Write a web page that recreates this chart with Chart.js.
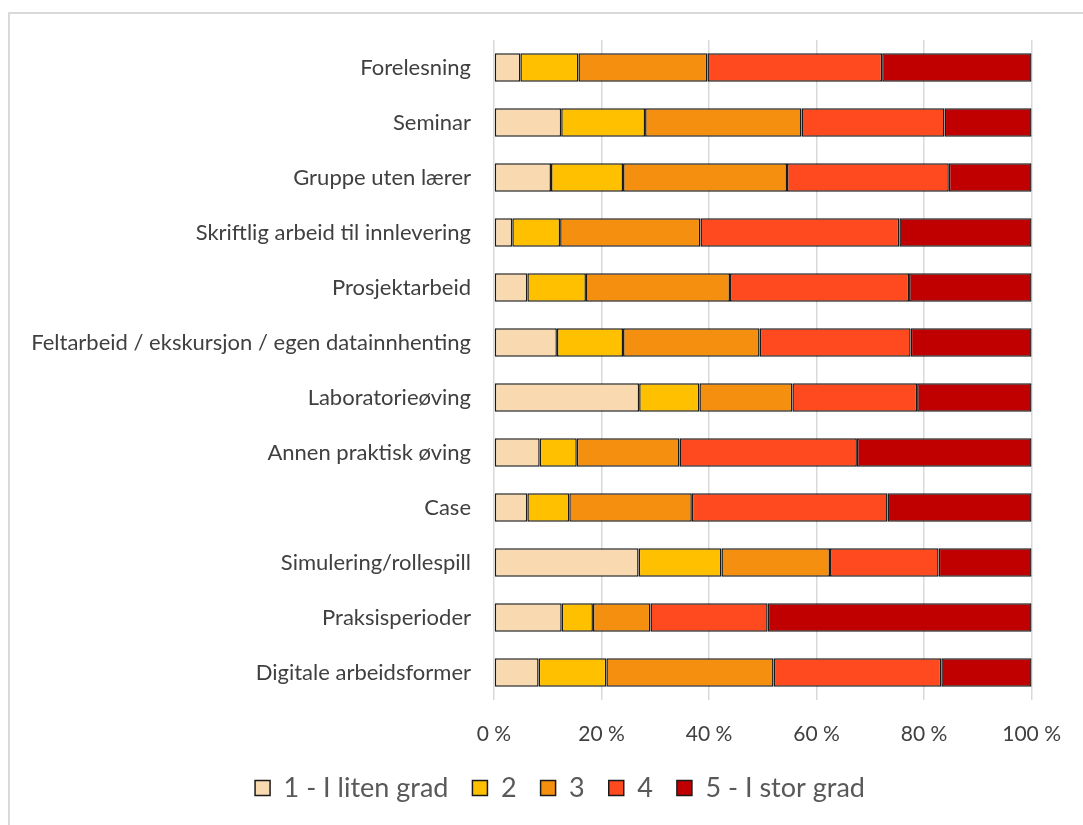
<!DOCTYPE html>
<html lang="no">
<head>
    <meta charset="UTF-8" />
    <title>Arbeidsformer</title>
    <script src="https://cdn.jsdelivr.net/npm/chart.js"></script>
    <style>
        html, body { margin: 0; padding: 0; background: #fff; }
        body { width: 1083px; height: 825px; position: relative; overflow: hidden; }
        .frame {
            position: absolute; left: 8px; top: 12px; width: 1100px; height: 840px;
            border-top: 2px solid #d9d9d9; border-left: 2px solid #d9d9d9;
            box-sizing: border-box;
        }
        #chartWrap { position: absolute; left: 0; top: 0; width: 1083px; height: 825px; }
    </style>
</head>
<body>
<div class="frame"></div>
<div id="chartWrap">
    <canvas id="workChart"></canvas>
</div>

<script>
    // Categories, top to bottom
    const categories = [
        "Forelesning",
        "Seminar",
        "Gruppe uten lærer",
        "Skriftlig arbeid til innlevering",
        "Prosjektarbeid",
        "Feltarbeid / ekskursjon / egen datainnhenting",
        "Laboratorieøving",
        "Annen praktisk øving",
        "Case",
        "Simulering/rollespill",
        "Praksisperioder",
        "Digitale arbeidsformer"
    ];

    const seriesNames = ["1 - I liten grad", "2", "3", "4", "5 - I stor grad"];

    // Share of answers (%) for each scale value
    const grade1 = [4.9, 12.5, 10.6, 3.4, 6.2, 11.7, 27.0, 8.5, 6.2, 26.9, 12.6, 8.3];
    const grade2 = [10.8, 15.6, 13.4, 8.9, 10.9, 12.3, 11.2, 6.9, 7.8, 15.4, 5.8, 12.6];
    const grade3 = [24.0, 29.1, 30.5, 26.1, 26.8, 25.4, 17.3, 19.1, 22.8, 20.2, 10.7, 31.1];
    const grade4 = [32.5, 26.6, 30.1, 37.0, 33.3, 28.1, 23.2, 33.0, 36.4, 20.2, 21.8, 31.2];
    const grade5 = [27.8, 16.2, 15.4, 24.6, 22.8, 22.5, 21.3, 32.5, 26.8, 17.3, 49.1, 16.8];

    const xTicks = [0, 20, 40, 60, 80, 100];

    const colors = ["#f9dab0", "#ffc000", "#f48f10", "#ff4a20", "#c00000"];
    const allSeries = [grade1, grade2, grade3, grade4, grade5];

    const textColor = "#595959";
    const labelColor = "#404040";
    const fontFamily = "Lato, 'Open Sans', sans-serif";

    const datasets = allSeries.map((values, i) => ({
        label: seriesNames[i],
        data: values,
        backgroundColor: colors[i],
        borderColor: "#1a1a1a",
        borderWidth: 1.5,
        borderSkipped: false,
        barPercentage: 0.52,
        categoryPercentage: 1.0
    }));

    // nudge the legend row to the right so it sits under the bars
    const legendShift = {
        id: "legendShift",
        afterLayout(chart) {
            const lg = chart.legend;
            if (lg) {
                lg.left += 38;
                lg.right += 38;
            }
        }
    };

    const ctx = document.getElementById("workChart").getContext("2d");
    new Chart(ctx, {
        type: "bar",
        data: { labels: categories, datasets: datasets },
        plugins: [legendShift],
        options: {
            indexAxis: "y",
            responsive: true,
            maintainAspectRatio: false,
            animation: false,
            layout: { padding: { left: 10, right: 49, top: 40, bottom: 13.5 } },
            scales: {
                x: {
                    stacked: true,
                    min: 0,
                    max: 100,
                    afterBuildTicks: (axis) => {
                        axis.ticks = xTicks.map((v) => ({ value: v }));
                    },
                    afterFit: (axis) => { axis.height = 50.5; },
                    grid: { color: "#d9d9d9", lineWidth: 1.5, drawTicks: false },
                    border: { display: false },
                    ticks: {
                        color: labelColor,
                        font: { family: fontFamily, size: 21 },
                        padding: 22,
                        callback: (v) => v + " %"
                    }
                },
                y: {
                    stacked: true,
                    afterFit: (axis) => { axis.width = 484; },
                    grid: { display: false, drawTicks: false },
                    border: { display: false },
                    ticks: {
                        color: labelColor,
                        font: { family: fontFamily, size: 22 },
                        padding: 23,
                        autoSkip: false
                    }
                }
            },
            plugins: {
                legend: {
                    position: "bottom",
                    labels: {
                        color: textColor,
                        font: { family: fontFamily, size: 27 },
                        boxWidth: 15,
                        boxHeight: 15,
                        padding: 24,
                        generateLabels: (chart) => chart.data.datasets.map((ds, i) => ({
                            text: ds.label,
                            fillStyle: ds.backgroundColor,
                            strokeStyle: "#1a1a1a",
                            lineWidth: 1.5,
                            fontColor: textColor,
                            datasetIndex: i
                        }))
                    }
                },
                tooltip: { enabled: false }
            }
        }
    });
</script>
</body>
</html>
